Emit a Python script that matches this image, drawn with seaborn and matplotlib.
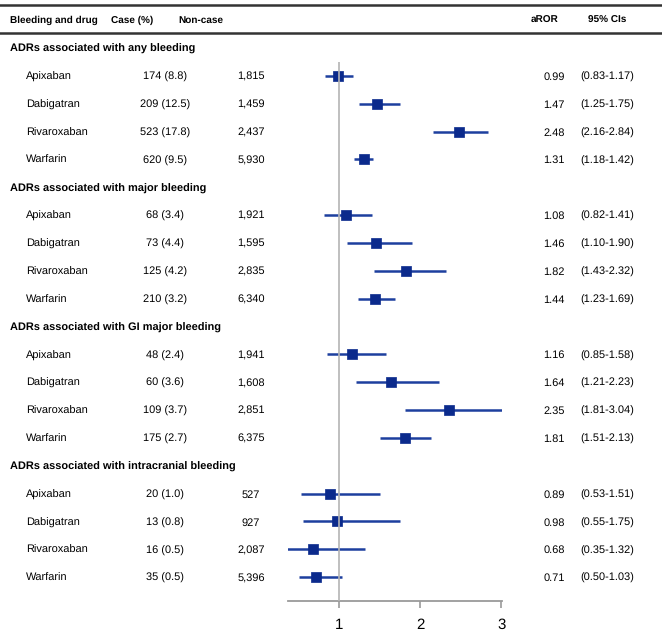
import numpy as np
import pandas as pd
import matplotlib
matplotlib.use("Agg")
import matplotlib.pyplot as plt
import matplotlib.transforms as mtransforms
import seaborn as sns

groups = ["ADRs associated with any bleeding",
          "ADRs associated with major bleeding",
          "ADRs associated with GI major bleeding",
          "ADRs associated with intracranial bleeding"]
drugs = ["Apixaban", "Dabigatran", "Rivaroxaban", "Warfarin"]
case_pct = ["174 (8.8)", "209 (12.5)", "523 (17.8)", "620 (9.5)",
            "68 (3.4)", "73 (4.4)", "125 (4.2)", "210 (3.2)",
            "48 (2.4)", "60 (3.6)", "109 (3.7)", "175 (2.7)",
            "20 (1.0)", "13 (0.8)", "16 (0.5)", "35 (0.5)"]
non_case = ["1,815", "1,459", "2,437", "5,930",
            "1,921", "1,595", "2,835", "6,340",
            "1,941", "1,608", "2,851", "6,375",
            "527", "927", "2,087", "5,396"]
aror = [0.99, 1.47, 2.48, 1.31,
        1.08, 1.46, 1.82, 1.44,
        1.16, 1.64, 2.35, 1.81,
        0.89, 0.98, 0.68, 0.71]
ci_lo = [0.83, 1.25, 2.16, 1.18,
         0.82, 1.10, 1.43, 1.23,
         0.85, 1.21, 1.81, 1.51,
         0.53, 0.55, 0.35, 0.50]
ci_hi = [1.17, 1.75, 2.84, 1.42,
         1.41, 1.90, 2.32, 1.69,
         1.58, 2.23, 3.04, 2.13,
         1.51, 1.75, 1.32, 1.03]

plt.rcParams["font.family"] = ["Liberation Sans", "DejaVu Sans"]
plt.rcParams["text.hinting"] = "no_hinting"
plt.rcParams["text.hinting_factor"] = 1

# build rows: each group header takes one slot, then the 4 drugs
rows = []
slot = 0
for gi, g in enumerate(groups):
    rows.append(dict(slot=slot, kind="group", label=g))
    slot += 1
    for di, d in enumerate(drugs):
        k = gi * 4 + di
        rows.append(dict(slot=slot, kind="drug", label=d, case=case_pct[k],
                         noncase=non_case[k], aror=aror[k], lo=ci_lo[k], hi=ci_hi[k]))
        slot += 1
df = pd.DataFrame(rows)
est = df[df.kind == "drug"]

W, H = 662, 640
fig = plt.figure(figsize=(W / 100, H / 100), dpi=100)

# forest axes: x 288..502 px, y 33..601 px
ax = fig.add_axes([288 / W, 1 - 601 / H, (502 - 288) / W, (601 - 33) / H])
first = 48
pitch = 27.85
y_top = (33 - first) / pitch
y_bot = (601 - first) / pitch
ax.set_ylim(y_bot, y_top)
ax.set_xlim(0.37, 3.01)

navy = "#0b2a8c"
ax.hlines(est["slot"], est["lo"], est["hi"], color="#1d3f9e", lw=1.8, zorder=2)
sns.scatterplot(data=est, x="aror", y="slot", marker="s", s=58, color=navy,
                edgecolor=navy, linewidth=0.5, ax=ax, zorder=3, legend=False)
ax.vlines(1, (62 - first) / pitch, y_bot, color="#b4b4b4", lw=1.2, zorder=4)

for s in ["top", "right", "left"]:
    ax.spines[s].set_visible(False)
ax.spines["bottom"].set_color("#9a9a9a")
ax.spines["bottom"].set_linewidth(1.3)
ax.set_yticks([])
ax.set_xticks([1, 2, 3])
ax.set_xticklabels(["1", "2", "3"])
ax.tick_params(axis="x", length=5, color="#9a9a9a", width=1.2, labelsize=11, pad=7)
ax.set_xlabel("")
ax.set_ylabel("")
ax.patch.set_visible(False)

trans = mtransforms.blended_transform_factory(fig.transFigure, ax.transData)
fs = 7.8
fs_group = 8.1
fs_head = 7.4
va = "center_baseline"

def fx(px):
    return px / W

for _, r in df.iterrows():
    if r.kind == "group":
        fig.text(fx(10), r.slot, r.label, transform=trans, fontsize=fs_group,
                 fontweight="bold", va=va, ha="left")
    else:
        fig.text(fx(26), r.slot, r.label, transform=trans, fontsize=fs, va=va)
        fig.text(fx(165), r.slot, r.case, transform=trans, fontsize=fs,
                 va=va, ha="center")
        fig.text(fx(251), r.slot, r.noncase, transform=trans, fontsize=fs,
                 va=va, ha="center")
        fig.text(fx(554), r.slot, f"{r.aror:.2f}", transform=trans, fontsize=fs,
                 va=va, ha="center")
        fig.text(fx(607), r.slot, f"({r.lo:.2f}-{r.hi:.2f})", transform=trans,
                 fontsize=fs, va=va, ha="center")

# column headers and rules
hy = 1 - 19 / H
for px, t in [(10, "Bleeding and drug"), (111, "Case (%)"), (178, "Non-case"),
              (531, "aROR"), (588, "95% CIs")]:
    fig.text(fx(px), hy, t, fontsize=fs_head, fontweight="bold", va=va, ha="left")
for py in [5, 33]:
    fig.add_artist(plt.Line2D([0, 1], [1 - py / H] * 2, color="#333333", lw=1.8))

fig.savefig("out.png", dpi=100)
